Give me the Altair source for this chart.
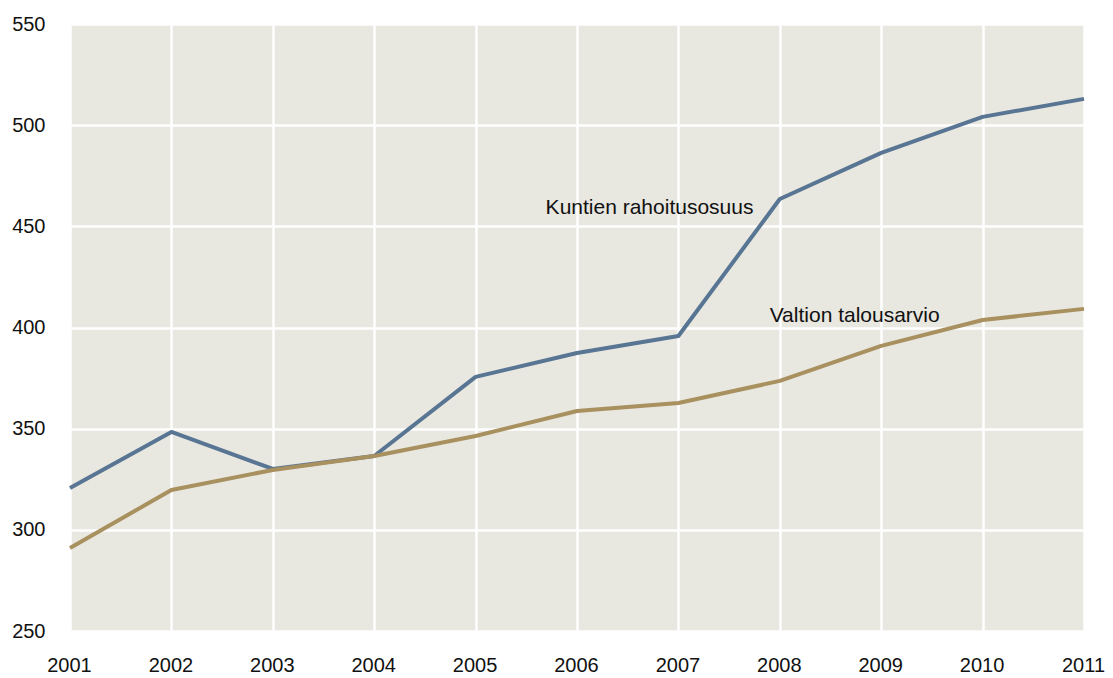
import altair as alt
import pandas as pd

years = [2001, 2002, 2003, 2004, 2005, 2006, 2007, 2008, 2009, 2010, 2011]
kuntien = [320.7, 348.4, 330.1, 336.5, 375.6, 387.4, 395.8, 463.5, 486.3, 504.1, 513.0]
valtion = [291.0, 319.7, 329.6, 336.5, 346.4, 358.7, 362.7, 373.6, 390.9, 403.7, 409.2]
series_names = ["Kuntien rahoitusosuus", "Valtion talousarvio"]
series_colors = ["#587593", "#A8905F"]
y_ticks = [250, 300, 350, 400, 450, 500, 550]

label_text = ["Kuntien rahoitusosuus", "Valtion talousarvio"]
label_x = [2007.74, 2007.90]
label_y = [459.0, 405.7]
label_align = ["right", "left"]

rows = []
for yr, k, v in zip(years, kuntien, valtion):
    rows.append({"year": yr, "value": k, "series": series_names[0]})
    rows.append({"year": yr, "value": v, "series": series_names[1]})
df = pd.DataFrame(rows)

labels = pd.DataFrame({"text": label_text, "x": label_x, "y": label_y, "align": label_align})

FONT = "Liberation Sans"

x_scale = alt.Scale(domain=[2001, 2011], nice=False, zero=False)
y_scale = alt.Scale(domain=[250, 550], nice=False, zero=False)

lines = alt.Chart(df).mark_line(strokeWidth=4, strokeJoin="round").encode(
    x=alt.X("year:Q", scale=x_scale, title=None,
            axis=alt.Axis(values=years, format="d", labelFontSize=20, labelFont=FONT,
                          labelColor="#111111", labelPadding=24, labelOffset=-1, grid=True,
                          gridColor="white", gridWidth=2.5, domain=False, ticks=False,
                          labelFlush=False)),
    y=alt.Y("value:Q", scale=y_scale, title=None,
            axis=alt.Axis(values=y_ticks, labelFontSize=20, labelFont=FONT,
                          labelColor="#111111", labelPadding=25, grid=True,
                          gridColor="white", gridWidth=2.5, domain=False, ticks=False,
                          labelFlush=False, labelBaseline="middle")),
    color=alt.Color("series:N", scale=alt.Scale(domain=series_names, range=series_colors),
                    legend=None),
)

text_right = alt.Chart(labels[labels["align"] == "right"]).mark_text(
    align="right", baseline="middle", fontSize=21, font=FONT, color="#111111"
).encode(x=alt.X("x:Q", scale=x_scale), y=alt.Y("y:Q", scale=y_scale), text="text:N")

text_left = alt.Chart(labels[labels["align"] == "left"]).mark_text(
    align="left", baseline="middle", fontSize=21, font=FONT, color="#111111"
).encode(x=alt.X("x:Q", scale=x_scale), y=alt.Y("y:Q", scale=y_scale), text="text:N")

chart = alt.layer(lines, text_right, text_left).properties(
    width=1014, height=607,
    autosize=alt.AutoSizeParams(type="none"),
    padding={"left": 62, "top": 16, "right": 21, "bottom": 45},
    background="white",
).configure_view(fill="#E8E7E0", stroke=None)

chart.save("out.html", embed_options={"renderer": "svg", "actions": False})
